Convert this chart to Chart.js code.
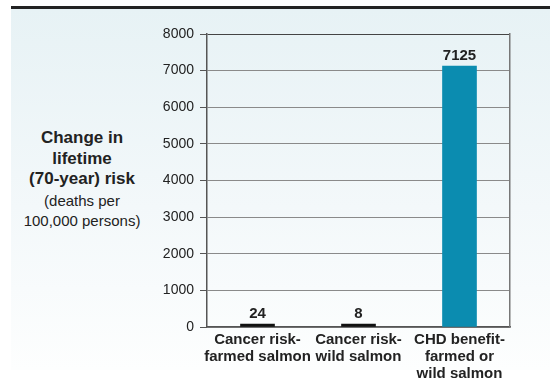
<!DOCTYPE html>
<html>
<head>
<meta charset="utf-8">
<script src="https://cdn.jsdelivr.net/npm/chart.js@4/dist/chart.umd.min.js"></script>
<style>
    body { margin: 0; background: #fff; font-family: "Liberation Sans", Arial, sans-serif; }
    #fondo {
        position: absolute; left: 11px; top: 9px; width: 539px; height: 361px;
        background: linear-gradient(#e7f2f5 0%, #f3f8fa 55%, #fdfefe 100%);
    }
    #linea { position: absolute; left: 11px; top: 6px; width: 539px; height: 3px; background: #222; }
    #titulo { position: absolute; left: 0; top: 128px; width: 164px; text-align: center; color: #222; }
    #titulo .fuerte { font-weight: bold; font-size: 17px; line-height: 20.5px; }
    #titulo .suave { font-size: 15px; line-height: 20px; margin-top: 1px; }
    #grafica { position: absolute; left: 0; top: 0; }
</style>
</head>
<body>
<div id="fondo"></div>
<div id="linea"></div>
<div id="titulo">
    <div class="fuerte">Change in<br>lifetime<br>(70-year) risk</div>
    <div class="suave">(deaths per<br>100,000 persons)</div>
</div>
<canvas id="grafica" width="550" height="385"></canvas>

<script>
// Datos
const categorias = [
    ["Cancer risk-", "farmed salmon"],
    ["Cancer risk-", "wild salmon"],
    ["CHD benefit-", "farmed or", "wild salmon"]
];
const valores = [24, 8, 7125];
const colores = ["#111111", "#111111", "#0b8cb0"];
const ticksY = [0, 1000, 2000, 3000, 4000, 5000, 6000, 7000, 8000];

const fuente = "'Liberation Sans', Arial, sans-serif";

// Etiquetas encima de cada barra
const etiquetas = {
    id: "etiquetas",
    afterDatasetsDraw(chart) {
        let ctx = chart.ctx;
        let meta = chart.getDatasetMeta(0);
        ctx.save();
        ctx.font = "bold 15px " + fuente;
        ctx.fillStyle = "#222";
        ctx.textAlign = "center";
        ctx.textBaseline = "bottom";
        meta.data.forEach((barra, i) => {
            ctx.fillText(valores[i], barra.x, barra.y - 3);
        });
        ctx.restore();
    }
};

new Chart(document.getElementById("grafica"), {
    type: "bar",
    data: {
        labels: categorias,
        datasets: [{
            data: valores,
            backgroundColor: colores,
            barThickness: 34,
            minBarLength: 3
        }]
    },
    options: {
        responsive: false,
        animation: false,
        layout: { padding: { top: 34, right: 0, bottom: 0, left: 0 } },
        plugins: {
            legend: { display: false },
            tooltip: { enabled: false }
        },
        scales: {
            x: {
                grid: { display: true, drawOnChartArea: false, drawTicks: false },
                border: { color: "#555", width: 1.5 },
                ticks: {
                    color: "#222",
                    font: { family: fuente, size: 15, weight: "bold", lineHeight: 1.13 },
                    padding: 4,
                    autoSkip: false,
                    maxRotation: 0
                },
                afterFit: s => { s.height = 58; }
            },
            y: {
                min: 0,
                max: 8000,
                afterBuildTicks: s => { s.ticks = ticksY.map(v => ({ value: v })); },
                grid: {
                    color: c => c.index === ticksY.length - 1 ? "#444" : "#8a8a8a",
                    tickLength: 7,
                    tickColor: "#555"
                },
                border: { color: "#555", width: 1.5 },
                ticks: {
                    color: "#222",
                    font: { family: fuente, size: 14 },
                    padding: 6,
                    callback: v => String(v)
                },
                afterFit: s => { s.width = 207; }
            },
            y2: {
                position: "right",
                min: 0,
                max: 8000,
                grid: { display: true, drawOnChartArea: false, drawTicks: false },
                border: { color: "#777", width: 1.5 },
                ticks: { display: false },
                afterFit: s => { s.width = 40; }
            }
        }
    },
    plugins: [etiquetas]
});
</script>
</body>
</html>
